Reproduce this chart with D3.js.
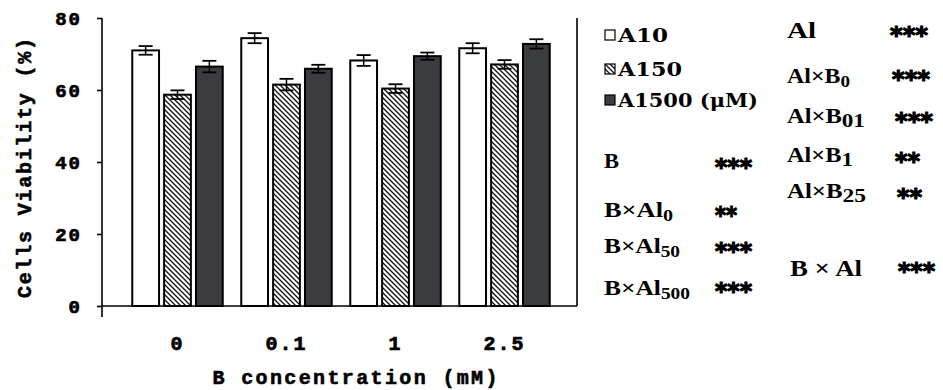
<!DOCTYPE html>
<html>
<head>
<meta charset="utf-8">
<script src="https://cdn.jsdelivr.net/npm/d3@7"></script>
<style>
  body { margin: 0; background: #fff; }
  text { fill: #000; }
</style>
</head>
<body>
<svg id="chart" width="943" height="390"></svg>
<script>
// Boron concentrations (x categories) and aluminium treatments (series)
const categories = ["0", "0.1", "1", "2.5"];
const seriesNames = ["A10", "A150", "A1500 (μM)"];

// Mean cell viability (%) for each series across the boron concentrations
const viabilityAl0   = [71.0, 74.4, 68.2, 71.6];
const viabilityAl50  = [58.7, 61.5, 60.4, 67.1];
const viabilityAl500 = [66.5, 65.9, 69.4, 72.8];

// Error (± half-height of error bars)
const errorAl0   = [1.2, 1.4, 1.5, 1.4];
const errorAl50  = [1.2, 1.6, 1.2, 1.2];
const errorAl500 = [1.6, 1.1, 1.0, 1.3];

const yTicks = [0, 20, 40, 60, 80];

// Significance annotations
const boronStats = [
  { main: "B", sub: "", stars: "***" },
  { main: "B×Al", sub: "0", stars: "**" },
  { main: "B×Al", sub: "50", stars: "***" },
  { main: "B×Al", sub: "500", stars: "***" }
];
const aluminiumStats = [
  { main: "Al", sub: "", stars: "***" },
  { main: "Al×B", sub: "0", stars: "***" },
  { main: "Al×B", sub: "01", stars: "***" },
  { main: "Al×B", sub: "1", stars: "**" },
  { main: "Al×B", sub: "25", stars: "**" }
];
const interactionStat = { main: "B × Al", sub: "", stars: "***" };

const seriesValues = [viabilityAl0, viabilityAl50, viabilityAl500];
const seriesErrors = [errorAl0, errorAl50, errorAl500];

const svg = d3.select("#chart");
const defs = svg.append("defs");

// Diagonal hatch for the middle series
const hatch = defs.append("pattern")
  .attr("id", "hatch")
  .attr("patternUnits", "userSpaceOnUse")
  .attr("width", 5).attr("height", 5);
hatch.append("rect").attr("width", 5).attr("height", 5).attr("fill", "#fff");
hatch.append("path")
  .attr("d", "M-1,-1 L6,6 M-1,4 L1,6 M4,-1 L6,1")
  .attr("stroke", "#111").attr("stroke-width", 1.3);

const fills = ["#ffffff", "url(#hatch)", "#3b3c40"];

const monoFont = "'Liberation Mono', 'Courier New', monospace";
const plotLeft = 102, plotRight = 577;
const x0 = d3.scaleBand().domain(categories).range([123, 559])
  .paddingInner(0.17).paddingOuter(0.085);
const x1 = d3.scaleBand().domain(seriesNames).range([0, x0.bandwidth()])
  .paddingInner(0.16);
const y = d3.scaleLinear().domain([0, 80]).range([306, 18]);

const rows = [];
categories.forEach((c, i) => {
  seriesNames.forEach((s, j) => {
    rows.push({ cat: c, series: s, idx: j, value: seriesValues[j][i], err: seriesErrors[j][i] });
  });
});

// Bars
const g = svg.append("g");
g.selectAll("rect.bar").data(rows).join("rect")
  .attr("class", "bar")
  .attr("x", d => x0(d.cat) + x1(d.series))
  .attr("y", d => y(d.value))
  .attr("width", x1.bandwidth())
  .attr("height", d => y(0) - y(d.value))
  .attr("fill", d => fills[d.idx])
  .attr("stroke", "#000")
  .attr("stroke-width", 2);

// Error bars
const capW = 7;
const eb = g.selectAll("g.err").data(rows).join("g").attr("class", "err")
  .attr("transform", d => `translate(${x0(d.cat) + x1(d.series) + x1.bandwidth() / 2},0)`);
eb.append("line")
  .attr("y1", d => y(d.value + d.err)).attr("y2", d => y(d.value - d.err))
  .attr("stroke", "#000").attr("stroke-width", 1.5);
eb.append("line")
  .attr("x1", -capW).attr("x2", capW)
  .attr("y1", d => y(d.value + d.err)).attr("y2", d => y(d.value + d.err))
  .attr("stroke", "#000").attr("stroke-width", 1.8);
eb.append("line")
  .attr("x1", -capW).attr("x2", capW)
  .attr("y1", d => y(d.value - d.err)).attr("y2", d => y(d.value - d.err))
  .attr("stroke", "#000").attr("stroke-width", 1.8);

// Frame: baseline and right edge
svg.append("line")
  .attr("x1", plotLeft).attr("x2", plotRight)
  .attr("y1", y(0)).attr("y2", y(0))
  .attr("stroke", "#000").attr("stroke-width", 1.6);
svg.append("line")
  .attr("x1", plotRight).attr("x2", plotRight)
  .attr("y1", y(80)).attr("y2", y(0))
  .attr("stroke", "#000").attr("stroke-width", 1.6);

// Y axis
const yAxis = svg.append("g")
  .attr("transform", `translate(${plotLeft},0)`)
  .call(d3.axisLeft(y).tickValues(yTicks).tickSize(5).tickPadding(15));
yAxis.select(".domain").remove();
yAxis.selectAll(".tick line").attr("stroke", "#000").attr("stroke-width", 1.6);
yAxis.selectAll(".tick text")
  .attr("font-family", monoFont)
  .attr("font-weight", "bold")
  .attr("font-size", 19)
  .attr("letter-spacing", 2)
  .attr("stroke", "#000").attr("stroke-width", 0.7)
  .attr("fill", "#000");
yAxis.append("line")
  .attr("y1", y(80)).attr("y2", y(0) + 11)
  .attr("stroke", "#000").attr("stroke-width", 1.6);

// X category labels
svg.append("g").selectAll("text").data(categories).join("text")
  .attr("x", d => x0(d) + x0.bandwidth() / 2)
  .attr("y", 350)
  .attr("text-anchor", "middle")
  .attr("font-family", monoFont)
  .attr("font-weight", "bold")
  .attr("font-size", 20)
  .attr("letter-spacing", 2)
  .attr("stroke", "#000").attr("stroke-width", 0.7)
  .text(d => d);

// Axis titles
svg.append("text")
  .attr("x", 355).attr("y", 384)
  .attr("text-anchor", "middle")
  .attr("font-family", monoFont)
  .attr("font-weight", "bold")
  .attr("font-size", 20)
  .attr("stroke", "#000").attr("stroke-width", 0.6)
  .attr("textLength", 285).attr("lengthAdjust", "spacing")
  .text("B concentration (mM)");

svg.append("text")
  .attr("transform", "translate(31,168) rotate(-90)")
  .attr("text-anchor", "middle")
  .attr("font-family", monoFont)
  .attr("font-weight", "bold")
  .attr("font-size", 20)
  .attr("stroke", "#000").attr("stroke-width", 0.6)
  .attr("textLength", 260).attr("lengthAdjust", "spacing")
  .text("Cells Viability (%)");

// Legend
const legend = svg.append("g").selectAll("g").data(seriesNames).join("g")
  .attr("transform", (d, i) => `translate(605,${[35, 69, 100][i]})`);
legend.append("rect")
  .attr("x", 0).attr("y", -5).attr("width", 10).attr("height", 10)
  .attr("fill", (d, i) => fills[i])
  .attr("stroke", "#000").attr("stroke-width", 1.2);
legend.append("text")
  .attr("x", 13).attr("y", 7)
  .attr("font-family", "'DejaVu Serif', serif")
  .attr("font-weight", "bold")
  .attr("font-size", 18)
  .attr("textLength", (d, i) => [50, 64, 140][i]).attr("lengthAdjust", "spacingAndGlyphs")
  .text(d => d);

// Significance labels
function statLabel(sel, d, x, baseline, size, subSize, width) {
  const t = sel.append("text")
    .attr("x", x).attr("y", baseline)
    .attr("font-family", "'Liberation Serif', 'Times New Roman', serif")
    .attr("font-weight", "bold")
    .attr("font-size", size)
    .attr("textLength", width).attr("lengthAdjust", "spacingAndGlyphs");
  t.append("tspan").text(d.main);
  if (d.sub) {
    t.append("tspan").attr("dy", 4).attr("font-size", subSize).text(d.sub);
  }
  return t;
}
function stars(sel, s, x, center, width) {
  sel.append("text")
    .attr("x", x).attr("y", center + 12)
    .attr("font-family", "'DejaVu Sans', sans-serif")
    .attr("font-weight", "bold")
    .attr("font-size", 23)
    .attr("stroke", "#000").attr("stroke-width", 1.2)
    .attr("textLength", width).attr("lengthAdjust", "spacingAndGlyphs")
    .text(s);
}

const ann = svg.append("g");
const bBase = [168, 217, 253, 295];
const bStarY = [163, 211, 247, 287];
const bWidth = [15, 69, 76, 86];
boronStats.forEach((d, i) => {
  statLabel(ann, d, 604, bBase[i], 21, 16, bWidth[i]);
  stars(ann, d.stars, 715, bStarY[i], d.stars.length === 3 ? 37 : 22);
});

const aBase = [38, 83, 123, 162, 198];
const aStarY = [31, 75, 117, 157, 193];
const aStarX = [890, 892, 895, 895, 897];
const aWidth = [29, 63, 78, 66, 79];
aluminiumStats.forEach((d, i) => {
  statLabel(ann, d, 787, aBase[i], i === 0 ? 23 : 20, i === 1 ? 16 : 19, aWidth[i]);
  stars(ann, d.stars, aStarX[i], aStarY[i], d.stars.length === 3 ? 38 : 25);
});

statLabel(ann, interactionStat, 790, 276, 24, 18, 72);
stars(ann, interactionStat.stars, 898, 267, 37);
</script>
</body>
</html>
